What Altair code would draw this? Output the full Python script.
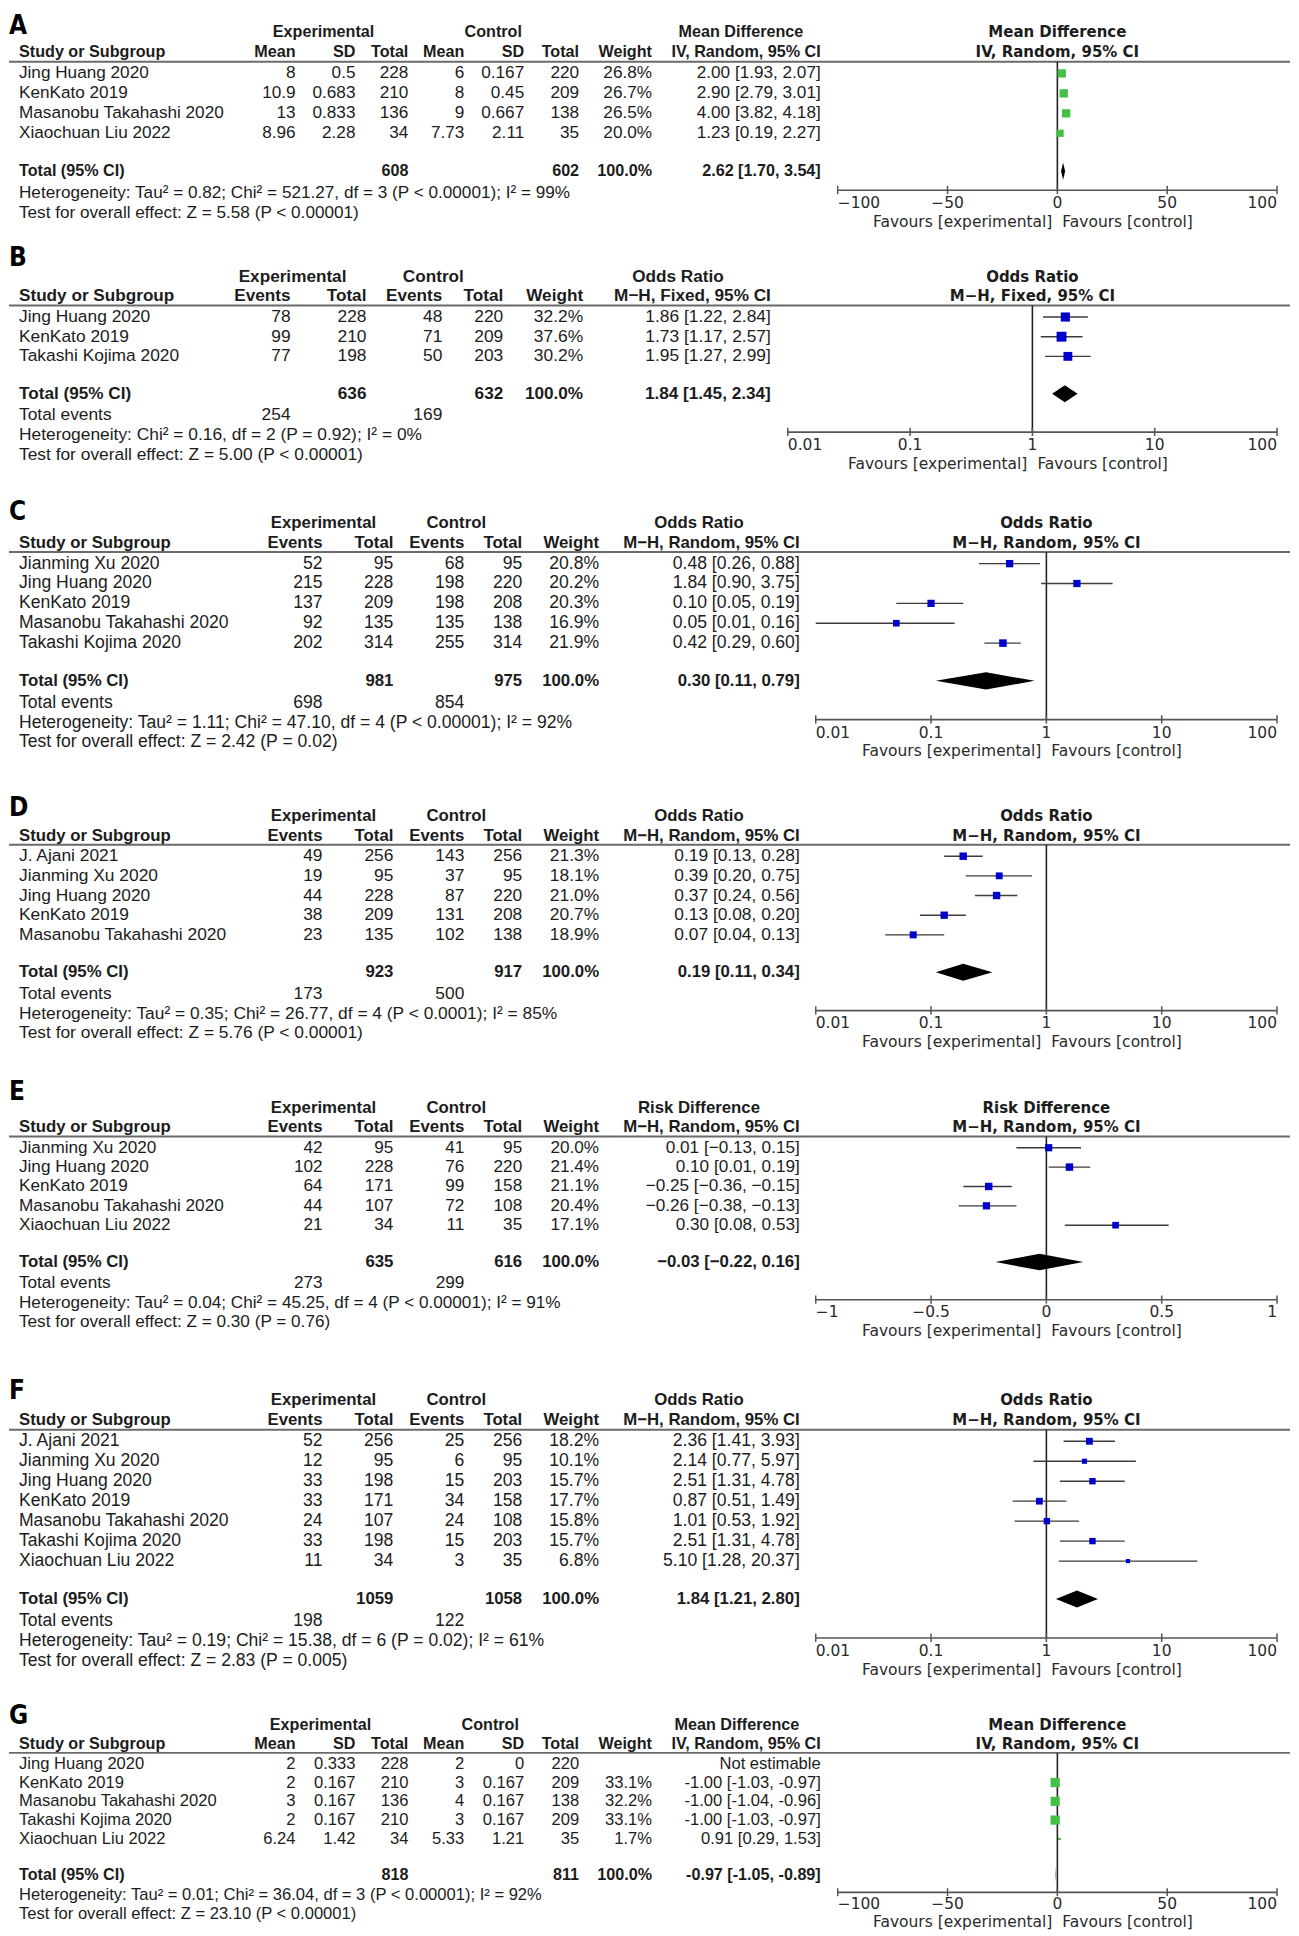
import altair as alt
import pandas as pd

# ---------------- Panel A : Mean Difference (IV, Random) ----------------
A_study = ["Jing Huang 2020", "KenKato 2019", "Masanobu Takahashi 2020", "Xiaochuan Liu 2022"]
A_exp_mean = ["8", "10.9", "13", "8.96"]
A_exp_sd = ["0.5", "0.683", "0.833", "2.28"]
A_exp_total = [228, 210, 136, 34]
A_ctl_mean = ["6", "8", "9", "7.73"]
A_ctl_sd = ["0.167", "0.45", "0.667", "2.11"]
A_ctl_total = [220, 209, 138, 35]
A_weight = [26.8, 26.7, 26.5, 20.0]
A_est = [2.00, 2.90, 4.00, 1.23]
A_lo = [1.93, 2.79, 3.82, 0.19]
A_hi = [2.07, 3.01, 4.18, 2.27]
A_pooled = [2.62, 1.70, 3.54]
A_sums = [608, 602]
A_het = "Heterogeneity: Tau² = 0.82; Chi² = 521.27, df = 3 (P < 0.00001); I² = 99%"
A_test = "Test for overall effect: Z = 5.58 (P < 0.00001)"

# ---------------- Panel B : Odds Ratio (M-H, Fixed) ----------------
B_study = ["Jing Huang 2020", "KenKato 2019", "Takashi Kojima 2020"]
B_exp_events = [78, 99, 77]
B_exp_total = [228, 210, 198]
B_ctl_events = [48, 71, 50]
B_ctl_total = [220, 209, 203]
B_weight = [32.2, 37.6, 30.2]
B_est = [1.86, 1.73, 1.95]
B_lo = [1.22, 1.17, 1.27]
B_hi = [2.84, 2.57, 2.99]
B_pooled = [1.84, 1.45, 2.34]
B_sums = [636, 632]
B_events = [254, 169]
B_het = "Heterogeneity: Chi² = 0.16, df = 2 (P = 0.92); I² = 0%"
B_test = "Test for overall effect: Z = 5.00 (P < 0.00001)"

# ---------------- Panel C : Odds Ratio (M-H, Random) ----------------
C_study = ["Jianming Xu 2020", "Jing Huang 2020", "KenKato 2019", "Masanobu Takahashi 2020", "Takashi Kojima 2020"]
C_exp_events = [52, 215, 137, 92, 202]
C_exp_total = [95, 228, 209, 135, 314]
C_ctl_events = [68, 198, 198, 135, 255]
C_ctl_total = [95, 220, 208, 138, 314]
C_weight = [20.8, 20.2, 20.3, 16.9, 21.9]
C_est = [0.48, 1.84, 0.10, 0.05, 0.42]
C_lo = [0.26, 0.90, 0.05, 0.01, 0.29]
C_hi = [0.88, 3.75, 0.19, 0.16, 0.60]
C_pooled = [0.30, 0.11, 0.79]
C_sums = [981, 975]
C_events = [698, 854]
C_het = "Heterogeneity: Tau² = 1.11; Chi² = 47.10, df = 4 (P < 0.00001); I² = 92%"
C_test = "Test for overall effect: Z = 2.42 (P = 0.02)"

# ---------------- Panel D : Odds Ratio (M-H, Random) ----------------
D_study = ["J. Ajani 2021", "Jianming Xu 2020", "Jing Huang 2020", "KenKato 2019", "Masanobu Takahashi 2020"]
D_exp_events = [49, 19, 44, 38, 23]
D_exp_total = [256, 95, 228, 209, 135]
D_ctl_events = [143, 37, 87, 131, 102]
D_ctl_total = [256, 95, 220, 208, 138]
D_weight = [21.3, 18.1, 21.0, 20.7, 18.9]
D_est = [0.19, 0.39, 0.37, 0.13, 0.07]
D_lo = [0.13, 0.20, 0.24, 0.08, 0.04]
D_hi = [0.28, 0.75, 0.56, 0.20, 0.13]
D_pooled = [0.19, 0.11, 0.34]
D_sums = [923, 917]
D_events = [173, 500]
D_het = "Heterogeneity: Tau² = 0.35; Chi² = 26.77, df = 4 (P < 0.0001); I² = 85%"
D_test = "Test for overall effect: Z = 5.76 (P < 0.00001)"

# ---------------- Panel E : Risk Difference (M-H, Random) ----------------
E_study = ["Jianming Xu 2020", "Jing Huang 2020", "KenKato 2019", "Masanobu Takahashi 2020", "Xiaochuan Liu 2022"]
E_exp_events = [42, 102, 64, 44, 21]
E_exp_total = [95, 228, 171, 107, 34]
E_ctl_events = [41, 76, 99, 72, 11]
E_ctl_total = [95, 220, 158, 108, 35]
E_weight = [20.0, 21.4, 21.1, 20.4, 17.1]
E_est = [0.01, 0.10, -0.25, -0.26, 0.30]
E_lo = [-0.13, 0.01, -0.36, -0.38, 0.08]
E_hi = [0.15, 0.19, -0.15, -0.13, 0.53]
E_pooled = [-0.03, -0.22, 0.16]
E_sums = [635, 616]
E_events = [273, 299]
E_het = "Heterogeneity: Tau² = 0.04; Chi² = 45.25, df = 4 (P < 0.00001); I² = 91%"
E_test = "Test for overall effect: Z = 0.30 (P = 0.76)"

# ---------------- Panel F : Odds Ratio (M-H, Random) ----------------
F_study = ["J. Ajani 2021", "Jianming Xu 2020", "Jing Huang 2020", "KenKato 2019",
           "Masanobu Takahashi 2020", "Takashi Kojima 2020", "Xiaochuan Liu 2022"]
F_exp_events = [52, 12, 33, 33, 24, 33, 11]
F_exp_total = [256, 95, 198, 171, 107, 198, 34]
F_ctl_events = [25, 6, 15, 34, 24, 15, 3]
F_ctl_total = [256, 95, 203, 158, 108, 203, 35]
F_weight = [18.2, 10.1, 15.7, 17.7, 15.8, 15.7, 6.8]
F_est = [2.36, 2.14, 2.51, 0.87, 1.01, 2.51, 5.10]
F_lo = [1.41, 0.77, 1.31, 0.51, 0.53, 1.31, 1.28]
F_hi = [3.93, 5.97, 4.78, 1.49, 1.92, 4.78, 20.37]
F_pooled = [1.84, 1.21, 2.80]
F_sums = [1059, 1058]
F_events = [198, 122]
F_het = "Heterogeneity: Tau² = 0.19; Chi² = 15.38, df = 6 (P = 0.02); I² = 61%"
F_test = "Test for overall effect: Z = 2.83 (P = 0.005)"

# ---------------- Panel G : Mean Difference (IV, Random) ----------------
G_study = ["Jing Huang 2020", "KenKato 2019", "Masanobu Takahashi 2020", "Takashi Kojima 2020", "Xiaochuan Liu 2022"]
G_exp_mean = ["2", "2", "3", "2", "6.24"]
G_exp_sd = ["0.333", "0.167", "0.167", "0.167", "1.42"]
G_exp_total = [228, 210, 136, 210, 34]
G_ctl_mean = ["2", "3", "4", "3", "5.33"]
G_ctl_sd = ["0", "0.167", "0.167", "0.167", "1.21"]
G_ctl_total = [220, 209, 138, 209, 35]
G_weight = [None, 33.1, 32.2, 33.1, 1.7]
G_est = [None, -1.00, -1.00, -1.00, 0.91]
G_lo = [None, -1.03, -1.04, -1.03, 0.29]
G_hi = [None, -0.97, -0.96, -0.97, 1.53]
G_pooled = [-0.97, -1.05, -0.89]
G_sums = [818, 811]
G_het = "Heterogeneity: Tau² = 0.01; Chi² = 36.04, df = 3 (P < 0.00001); I² = 92%"
G_test = "Test for overall effect: Z = 23.10 (P < 0.00001)"

# ---------------- axis tick lists ----------------
MD_ticks = [-100, -50, 0, 50, 100]
MD_labels = ["\u2212100", "\u221250", "0", "50", "100"]
OR_ticks = [0.01, 0.1, 1, 10, 100]
OR_labels = ["0.01", "0.1", "1", "10", "100"]
RD_ticks = [-1, -0.5, 0, 0.5, 1]
RD_labels = ["\u22121", "\u22120.5", "0", "0.5", "1"]

# ---------------- styling / layout ----------------
OX = 8
W = 1283
TF = "Liberation Sans"
PF = "DejaVu Sans"
LF = "Liberation Sans Narrow, DejaVu Sans Condensed, DejaVu Sans"
TXT = "#1c1c1c"
BLUE = "#0000cc"
GREEN = "#44c044"
PFS = 15.5   # plot-side text size


def f2(v, minus):
    return f"{v:.2f}".replace("-", minus)


def ci_text(e, l, h, minus="-"):
    if e is None:
        return "Not estimable"
    return f"{f2(e, minus)} [{f2(l, minus)}, {f2(h, minus)}]"


def build(letter, study, cols, col_x, weights, est, lo, hi, total_cells, event_cells,
          pooled, het, test, groups, ci_hdr, eff, lay, minus="-", color=BLUE):
    n = len(study)
    top, H, row0, pitch = lay["top"], lay["height"], lay["row0"], lay["pitch"]
    ysc = alt.Scale(domain=[(top - row0) / pitch, (top + H - row0) / pitch],
                    reverse=True, nice=False, zero=False)
    if eff["type"] == "log":
        xsc = alt.Scale(type="log", domain=eff["domain"],
                        range=[eff["px"][0] - OX, eff["px"][1] - OX], nice=False)
    else:
        xsc = alt.Scale(type="linear", domain=eff["domain"],
                        range=[eff["px"][0] - OX, eff["px"][1] - OX], nice=False, zero=False)
    fs, fsb = lay["fs"], lay["fsb"]

    r_h1, r_h2, r_line = -2.05, -1.05, -0.58
    r_tot = n + 0.9
    r_ev = n + 2
    r_het = n + 3 if event_cells else n + 2
    r_test = r_het + 1
    r_axis = r_het - 0.15
    r_lab = r_het + lay.get("lab", 0.5)
    r_fav = r_het + lay.get("fav", 1.45)

    items = []

    def add(r, t, x, align="right", bold=False, font=TF, size=None, col=TXT):
        if size is None:
            size = fsb if bold else fs
        items.append(dict(r=r, t=str(t), x=float(x - OX), align=align, bold=bold,
                          font=font, size=float(size), col=col))

    # panel letter
    add(lay["letter_r"], letter, OX, align="left", bold=True, font=LF, size=26, col="#000000")
    # group headers over the table
    for text, cx in groups:
        add(r_h1, text, cx, align="center", bold=True)
    add(r_h2, "Study or Subgroup", 18, align="left", bold=True)
    for (hdr, vals), x in zip(cols, col_x):
        add(r_h2, hdr, x, bold=True)
        for i, v in enumerate(vals):
            if v is not None and v != "":
                add(i, v, x)
    for i, s in enumerate(study):
        add(i, s, 18, align="left")
    wx, cix = col_x[len(cols)], col_x[len(cols) + 1]
    add(r_h2, "Weight", wx, bold=True)
    add(r_h2, ci_hdr, cix, bold=True)
    for i in range(n):
        if weights[i] is not None:
            add(i, f"{weights[i]:.1f}%", wx)
        add(i, ci_text(est[i], lo[i], hi[i], minus), cix)
    add(r_tot, "Total (95% CI)", 18, align="left", bold=True)
    for ci, v in total_cells.items():
        add(r_tot, v, col_x[ci], bold=True)
    add(r_tot, "100.0%", wx, bold=True)
    add(r_tot, ci_text(pooled[0], pooled[1], pooled[2], minus), cix, bold=True)
    if event_cells:
        add(r_ev, "Total events", 18, align="left")
        for ci, v in event_cells.items():
            add(r_ev, v, col_x[ci])
    add(r_het, het, 18, align="left")
    add(r_test, test, 18, align="left")
    # header over the forest plot
    rc = (eff["px"][0] + eff["px"][1]) / 2
    add(r_h1, groups[-1][0], rc, align="center", bold=True, font=PF, size=15)
    add(r_h2, ci_hdr, rc, align="center", bold=True, font=PF, size=15)

    Y = lambda f: alt.Y(f"{f}:Q", scale=ysc, axis=None)
    X = lambda f: alt.X(f"{f}:Q", scale=xsc, axis=None)

    layers = []
    layers.append(alt.Chart(pd.DataFrame({"r": [r_line]})).mark_rule(
        color="#6a6a6a", strokeWidth=2).encode(x=alt.value(0), x2=alt.value(W), y=Y("r")))
    layers.append(alt.Chart(pd.DataFrame({"x": [eff["null"]], "r1": [r_line], "r2": [r_axis]})).mark_rule(
        color="#222222", strokeWidth=1.6).encode(x=X("x"), y=Y("r1"), y2=alt.Y2("r2")))
    layers.append(alt.Chart(pd.DataFrame({"a": [eff["domain"][0]], "b": [eff["domain"][1]], "r": [r_axis]})).mark_rule(
        color="#555555", strokeWidth=1.6).encode(x=X("a"), x2=alt.X2("b"), y=Y("r")))
    tdf = pd.DataFrame({"x": eff["ticks"], "t": eff["labels"],
                        "r1": [r_axis - 0.22] * len(eff["ticks"]),
                        "r2": [r_axis + 0.2] * len(eff["ticks"]),
                        "rl": [r_lab] * len(eff["ticks"])})
    layers.append(alt.Chart(tdf).mark_rule(color="#555555", strokeWidth=1.5).encode(
        x=X("x"), y=Y("r1"), y2=alt.Y2("r2")))
    nt = len(eff["ticks"])
    for sub, align in [(tdf.iloc[:1], "left"), (tdf.iloc[1:nt - 1], "center"), (tdf.iloc[nt - 1:], "right")]:
        layers.append(alt.Chart(sub).mark_text(align=align, baseline="middle", font=PF, fontSize=PFS,
                                               color="#2a2a2a").encode(x=X("x"), y=Y("rl"), text="t:N"))
    fav = pd.DataFrame({"x": [eff["null"]], "r": [r_fav]})
    layers.append(alt.Chart(fav).mark_text(align="right", baseline="middle", font=PF, fontSize=PFS, dx=-5,
                                           color="#2a2a2a", text="Favours [experimental]").encode(x=X("x"), y=Y("r")))
    layers.append(alt.Chart(fav).mark_text(align="left", baseline="middle", font=PF, fontSize=PFS, dx=5,
                                           color="#2a2a2a", text="Favours [control]").encode(x=X("x"), y=Y("r")))
    sdf = pd.DataFrame({"r": list(range(n)), "est": est, "lo": lo, "hi": hi, "w": weights}).dropna()
    layers.append(alt.Chart(sdf).mark_rule(color="#3c3c3c", strokeWidth=1.4).encode(
        x=X("lo"), x2=alt.X2("hi"), y=Y("r")))
    layers.append(alt.Chart(sdf).mark_square(color=color, opacity=1, filled=True).encode(
        x=X("est"), y=Y("r"),
        size=alt.Size("w:Q", scale=alt.Scale(domain=[0, 100], range=[0, 260]), legend=None)))
    h = 0.43
    ddf = pd.DataFrame({"x": [pooled[1], pooled[0], pooled[2]],
                        "y1": [r_tot, r_tot - h, r_tot], "y2": [r_tot, r_tot + h, r_tot]})
    layers.append(alt.Chart(ddf).mark_area(color="#000000", orient="vertical", opacity=1).encode(
        x=X("x"), y=Y("y1"), y2=alt.Y2("y2")))

    df = pd.DataFrame(items)
    for key, g in df.groupby(["x", "align", "bold", "font", "size", "col"], sort=False):
        x, align, bold, font, size, col = key
        layers.append(alt.Chart(g[["r", "t"]].reset_index(drop=True)).mark_text(
            align=align, baseline="middle", font=font, fontSize=float(size),
            fontWeight="bold" if bool(bold) else "normal", color=col).encode(
            x=alt.value(float(x)), y=Y("r"), text="t:N"))
    return alt.layer(*layers).properties(width=W, height=H)


MD_X = [295, 355, 408, 464, 524, 579, 652, 821]
B_X = [290, 366, 442, 503, 583, 771]
EV_X = [322, 393, 464, 522, 599, 800]

eff_md = dict(type="linear", domain=[-100, 100], px=[838, 1278], ticks=MD_ticks, labels=MD_labels, null=0)
eff_or_b = dict(type="log", domain=[0.01, 100], px=[788, 1278], ticks=OR_ticks, labels=OR_labels, null=1)
eff_or = dict(type="log", domain=[0.01, 100], px=[816, 1278], ticks=OR_ticks, labels=OR_labels, null=1)
eff_rd = dict(type="linear", domain=[-1, 1], px=[816, 1278], ticks=RD_ticks, labels=RD_labels, null=0)


def md_cols(em, esd, en, cm, csd, cn):
    return [("Mean", em), ("SD", esd), ("Total", en), ("Mean", cm), ("SD", csd), ("Total", cn)]


def ev_cols(ee, et, ce, ct):
    return [("Events", ee), ("Total", et), ("Events", ce), ("Total", ct)]


pA = build("A", A_study, md_cols(A_exp_mean, A_exp_sd, A_exp_total, A_ctl_mean, A_ctl_sd, A_ctl_total),
           MD_X, A_weight, A_est, A_lo, A_hi, {2: A_sums[0], 5: A_sums[1]}, None, A_pooled, A_het, A_test,
           [("Experimental", 323), ("Control", 493), ("Mean Difference", 741)], "IV, Random, 95% CI", eff_md,
           dict(top=8, height=234, row0=72, pitch=20, letter_r=-2.35, fs=17.2, fsb=16.2), color=GREEN)
pB = build("B", B_study, ev_cols(B_exp_events, B_exp_total, B_ctl_events, B_ctl_total),
           B_X, B_weight, B_est, B_lo, B_hi, {1: B_sums[0], 3: B_sums[1]}, {0: B_events[0], 2: B_events[1]},
           B_pooled, B_het, B_test,
           [("Experimental", 292), ("Control", 433), ("Odds Ratio", 678)], "M\u2212H, Fixed, 95% CI", eff_or_b,
           dict(top=242, height=252, row0=316, pitch=19.7, letter_r=-3.0, fs=17.4, fsb=17.2))
pC = build("C", C_study, ev_cols(C_exp_events, C_exp_total, C_ctl_events, C_ctl_total),
           EV_X, C_weight, C_est, C_lo, C_hi, {1: C_sums[0], 3: C_sums[1]}, {0: C_events[0], 2: C_events[1]},
           C_pooled, C_het, C_test,
           [("Experimental", 323), ("Control", 456), ("Odds Ratio", 699)], "M\u2212H, Random, 95% CI", eff_or,
           dict(top=494, height=296, row0=563, pitch=19.9, letter_r=-2.6, fs=17.6, fsb=16.8))
pD = build("D", D_study, ev_cols(D_exp_events, D_exp_total, D_ctl_events, D_ctl_total),
           EV_X, D_weight, D_est, D_lo, D_hi, {1: D_sums[0], 3: D_sums[1]}, {0: D_events[0], 2: D_events[1]},
           D_pooled, D_het, D_test,
           [("Experimental", 323), ("Control", 456), ("Odds Ratio", 699)], "M\u2212H, Random, 95% CI", eff_or,
           dict(top=790, height=285, row0=856, pitch=19.7, letter_r=-2.45, fs=17.4, fsb=16.8))
pE = build("E", E_study, ev_cols(E_exp_events, E_exp_total, E_ctl_events, E_ctl_total),
           EV_X, E_weight, E_est, E_lo, E_hi, {1: E_sums[0], 3: E_sums[1]}, {0: E_events[0], 2: E_events[1]},
           E_pooled, E_het, E_test,
           [("Experimental", 323), ("Control", 456), ("Risk Difference", 699)], "M\u2212H, Random, 95% CI", eff_rd,
           dict(top=1075, height=297, row0=1148, pitch=19.4, letter_r=-2.9, fs=17.2, fsb=16.8), minus="\u2212")
pF = build("F", F_study, ev_cols(F_exp_events, F_exp_total, F_ctl_events, F_ctl_total),
           EV_X, F_weight, F_est, F_lo, F_hi, {1: F_sums[0], 3: F_sums[1]}, {0: F_events[0], 2: F_events[1]},
           F_pooled, F_het, F_test,
           [("Experimental", 323), ("Control", 456), ("Odds Ratio", 699)], "M\u2212H, Random, 95% CI", eff_or,
           dict(top=1372, height=328, row0=1442, pitch=20, letter_r=-2.5, fs=17.6, fsb=16.8))
pG = build("G", G_study, md_cols(G_exp_mean, G_exp_sd, G_exp_total, G_ctl_mean, G_ctl_sd, G_ctl_total),
           MD_X, G_weight, G_est, G_lo, G_hi, {2: G_sums[0], 5: G_sums[1]}, None, G_pooled, G_het, G_test,
           [("Experimental", 320), ("Control", 490), ("Mean Difference", 737)], "IV, Random, 95% CI", eff_md,
           dict(top=1700, height=228, row0=1765, pitch=18.8, letter_r=-2.55, fs=16.6, fsb=16.2,
                lab=0.45, fav=1.45), color=GREEN)

chart = alt.vconcat(pA, pB, pC, pD, pE, pF, pG, spacing=0, bounds="flush").properties(
    padding=0).configure_view(stroke=None)

chart.save("out.html", embed_options={"renderer": "svg", "actions": False})
